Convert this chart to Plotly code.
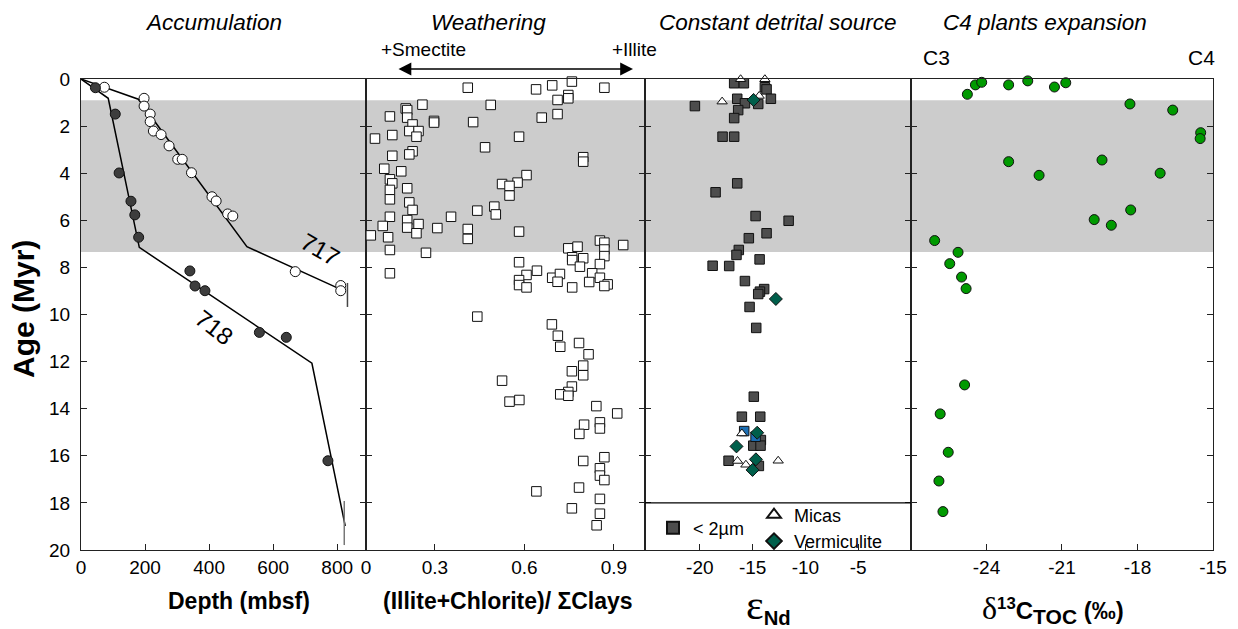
import plotly.graph_objects as go

# ---------------- data ----------------
# Panel 1: Accumulation (depth vs age), ODP sites 717 and 718
site717_depth = [73, 197, 197, 216, 216, 226, 250, 275, 302, 316, 345, 409, 422, 458, 474, 669, 811, 811]
site717_age = [0.35, 0.82, 1.15, 1.49, 1.81, 2.21, 2.36, 2.84, 3.41, 3.41, 3.98, 5.00, 5.18, 5.73, 5.82, 8.18, 8.77, 8.99]
site718_depth = [45, 107, 119, 156, 168, 180, 340, 356, 387, 557, 641, 771]
site718_age = [0.37, 1.49, 3.99, 5.19, 5.77, 6.72, 8.15, 8.79, 8.99, 10.76, 10.97, 16.21]
model717_depth = [0, 179, 518, 804]
model717_age = [0, 0.86, 7.12, 8.89]
model718_depth = [0, 85, 182, 721, 825]
model718_age = [0, 0.82, 7.15, 12.07, 18.98]
bar717_depth = [832, 832]
bar717_age = [8.66, 9.68]
bar718_depth = [822, 822]
bar718_age = [17.92, 19.79]

# Panel 2: Weathering, (Illite+Chlorite)/sum clays
clay_ratio = [0.410, 0.639, 0.693, 0.759, 0.868, 0.711, 0.747, 0.747, 0.711, 0.658, 0.487, 0.258, 0.202, 0.207,
              0.149, 0.207, 0.225, 0.297, 0.297, 0.428, 0.214, 0.245, 0.238, 0.157, 0.099, 0.582, 0.468, 0.225,
              0.214, 0.157, 0.797, 0.797, 0.130, 0.187, 0.149, 0.157, 0.149, 0.149, 0.207, 0.214, 0.225, 0.607,
              0.577, 0.525, 0.550, 0.550, 0.442, 0.499, 0.504, 0.354, 0.149, 0.207, 0.207, 0.245, 0.238, 0.125,
              0.085, 0.143, 0.308, 0.410, 0.410, 0.582, 0.149, 0.270, 0.149, 0.853, 0.868, 0.868, 0.868, 0.931,
              0.747, 0.778, 0.760, 0.797, 0.760, 0.786, 0.853, 0.827, 0.582, 0.642, 0.607, 0.582, 0.582, 0.607,
              0.693, 0.719, 0.711, 0.760, 0.817, 0.853, 0.879, 0.868,
              0.442, 0.692, 0.712, 0.720, 0.783, 0.815, 0.797, 0.797, 0.759, 0.525, 0.759, 0.747, 0.720, 0.747,
              0.583, 0.550, 0.841, 0.911, 0.853, 0.853, 0.800, 0.784, 0.868, 0.797, 0.853, 0.853, 0.868, 0.783,
              0.640, 0.853, 0.759, 0.853, 0.842]
clay_age = [0.37, 0.44, 0.27, 0.11, 0.37, 0.89, 0.68, 0.82, 1.49, 1.64, 1.10, 1.09, 1.25, 1.32,
            1.59, 1.64, 1.93, 1.78, 1.85, 1.83, 2.21, 2.21, 2.45, 2.38, 2.53, 2.45, 2.90, 3.07,
            3.20, 3.26, 3.32, 3.51, 3.81, 3.92, 4.26, 4.43, 4.71, 5.11, 4.64, 5.24, 5.56, 4.08,
            4.40, 4.46, 4.54, 4.95, 5.59, 5.42, 5.75, 5.85, 5.85, 5.99, 6.31, 6.16, 6.55, 6.24,
            6.64, 6.72, 6.33, 6.37, 6.79, 6.48, 7.26, 7.38, 8.25, 6.86, 6.95, 7.24, 7.52, 7.05,
            7.19, 7.12, 7.57, 7.61, 7.69, 7.97, 7.86, 8.25, 7.78, 8.14, 8.32, 8.54, 8.75, 8.85,
            8.44, 8.28, 8.61, 8.85, 8.62, 8.44, 8.72, 8.79,
            10.09, 10.42, 10.90, 11.37, 11.21, 11.69, 12.17, 12.58, 12.41, 12.81, 13.06, 13.29, 13.39, 13.45,
            13.63, 13.70, 13.89, 14.20, 14.58, 14.84, 14.68, 15.07, 16.06, 16.22, 16.53, 16.84, 17.03, 17.35,
            17.51, 17.83, 18.23, 18.46, 18.95]

# Panel 3: Constant detrital source, eps Nd
nd_clay = [-16.75, -15.83, -13.84, -13.68, -13.27, -16.46, -15.73, -14.47, -20.47, -16.37, -16.75, -17.85,
           -16.75, -16.46, -18.51, -14.72, -11.59, -13.68, -15.36, -16.31, -16.53, -14.34, -18.79, -17.22,
           -15.73, -13.91, -14.31, -14.47, -15.29, -14.66, -14.89, -16.02, -14.28, -14.22, -14.94, -14.25,
           -17.28, -14.41]
nd_clay_age = [0.18, 0.18, 0.35, 0.44, 0.84, 0.84, 1.03, 1.06, 1.15, 1.32, 1.66, 2.45,
               2.45, 4.43, 4.81, 5.82, 6.02, 6.55, 6.76, 7.26, 7.47, 7.66, 7.93, 7.94,
               8.58, 8.92, 9.03, 9.13, 9.68, 10.57, 13.49, 14.34, 14.34, 15.33, 15.57, 15.57,
               16.21, 16.43]
nd_blue = [-15.80, -14.72]
nd_blue_age = [14.95, 15.19]
nd_micas = [-16.14, -13.84, -14.38, -17.89, -16.02, -16.43, -15.64, -12.58]
nd_micas_age = [0.01, 0.01, 0.72, 0.96, 15.05, 16.22, 16.38, 16.21]
nd_verm = [-14.91, -12.80, -14.57, -16.53, -14.69, -15.01]
nd_verm_age = [0.89, 9.34, 15.02, 15.60, 16.15, 16.60]
legend_divider_age = 18

# Panel 4: C4 plants expansion, d13C TOC
d13c = [-24.76, -24.44, -24.19, -23.12, -22.36, -21.30, -20.85, -18.30, -16.60, -15.49, -15.51, -23.12,
        -21.91, -19.41, -17.10, -18.27, -19.72, -19.04, -26.06, -25.13, -25.46, -24.99, -24.81, -24.87,
        -25.84, -25.52, -25.89, -25.73]
d13c_age = [0.65, 0.25, 0.14, 0.25, 0.08, 0.34, 0.16, 1.06, 1.32, 2.28, 2.53, 3.51,
            4.09, 3.44, 4.00, 5.56, 5.97, 6.21, 6.86, 7.36, 7.84, 8.41, 8.90, 12.99,
            14.22, 15.85, 17.07, 18.37]

band_age = [0.9, 7.35]

# tick labels
depth_ticks = [0, 200, 400, 600, 800]
ratio_ticks = [0.069, 0.3, 0.6, 0.9]
ratio_ticktext = ["0", "0.3", "0.6", "0.9"]
nd_ticks = [-20, -15, -10, -5]
c13_ticks = [-24, -21, -18, -15]
age_ticks = list(range(0, 21, 2))

# ---------------- figure ----------------
FONT = "Liberation Sans, Arial, sans-serif"
LINE = "#222222"
fig = go.Figure()

mk = lambda fill, sym, size: dict(color=fill, symbol=sym, size=size, line=dict(color="#111111", width=1))

# Panel 1
fig.add_trace(go.Scatter(x=model717_depth, y=model717_age, mode="lines", line=dict(color="black", width=1.5),
                         xaxis="x", yaxis="y", showlegend=False, hoverinfo="skip"))
fig.add_trace(go.Scatter(x=model718_depth, y=model718_age, mode="lines", line=dict(color="black", width=1.5),
                         xaxis="x", yaxis="y", showlegend=False, hoverinfo="skip"))
fig.add_trace(go.Scatter(x=bar717_depth, y=bar717_age, mode="lines", line=dict(color="#444444", width=1.5),
                         xaxis="x", yaxis="y", showlegend=False))
fig.add_trace(go.Scatter(x=bar718_depth, y=bar718_age, mode="lines", line=dict(color="#777777", width=1.5),
                         xaxis="x", yaxis="y", showlegend=False))
fig.add_trace(go.Scatter(x=site717_depth, y=site717_age, mode="markers", marker=mk("white", "circle", 10),
                         xaxis="x", yaxis="y", showlegend=False, cliponaxis=False))
fig.add_trace(go.Scatter(x=site718_depth, y=site718_age, mode="markers", marker=mk("#3d3d3d", "circle", 10),
                         xaxis="x", yaxis="y", showlegend=False, cliponaxis=False))

# Panel 2
fig.add_trace(go.Scatter(x=clay_ratio, y=clay_age, mode="markers", marker=mk("white", "square", 9.5),
                         xaxis="x2", yaxis="y2", showlegend=False, cliponaxis=False))

# Panel 3
fig.add_trace(go.Scatter(x=nd_clay, y=nd_clay_age, mode="markers", marker=mk("#4d4d4d", "square", 9.5),
                         xaxis="x3", yaxis="y3", name="&lt; 2µm", legend="legend", cliponaxis=False))
fig.add_trace(go.Scatter(x=nd_blue, y=nd_blue_age, mode="markers", marker=mk("#1c6fb4", "square", 9.5),
                         xaxis="x3", yaxis="y3", showlegend=False, cliponaxis=False))
fig.add_trace(go.Scatter(x=nd_micas, y=nd_micas_age, mode="markers", marker=mk("white", "triangle-up", 9),
                         xaxis="x3", yaxis="y3", name="Micas", legend="legend2", cliponaxis=False))
fig.add_trace(go.Scatter(x=nd_verm, y=nd_verm_age, mode="markers", marker=mk("#005f4b", "diamond", 10),
                         xaxis="x3", yaxis="y3", name="Vermiculite", legend="legend2", cliponaxis=False))

# Panel 4
fig.add_trace(go.Scatter(x=d13c, y=d13c_age, mode="markers", marker=mk("#009a00", "circle", 10),
                         xaxis="x4", yaxis="y4", showlegend=False, cliponaxis=False))

# ---------------- axes ----------------
doms = [[0, 0.2518], [0.2518, 0.4982], [0.4982, 0.7332], [0.7332, 1.0]]
xranges = [[0, 890], [0.069, 1.004], [-25.2, 0], [-27, -15]]
xtickvals = [depth_ticks, ratio_ticks, nd_ticks, c13_ticks]
xticktext = [[str(v) for v in depth_ticks], ratio_ticktext, [str(v) for v in nd_ticks], [str(v) for v in c13_ticks]]
top_ranges = [[0, 890], [0, 0.921], [-25.2, 0], [-27, -15]]
top_ticks = [depth_ticks, [0.3, 0.6, 0.9], nd_ticks, c13_ticks[:3]]

layout = {}
for i in range(4):
    n = "" if i == 0 else str(i + 1)
    layout["xaxis" + n] = dict(domain=doms[i], range=xranges[i], anchor="y" + n, tickmode="array",
                               tickvals=xtickvals[i], ticktext=xticktext[i], ticks="inside", ticklen=6,
                               tickcolor=LINE, showline=True, linecolor=LINE, linewidth=1, mirror=True,
                               showgrid=False, zeroline=False, tickfont=dict(size=19, family=FONT, color="black"))
    layout["yaxis" + n] = dict(domain=[0, 1], range=[20, 0], anchor="x" + n, tickmode="array",
                               tickvals=age_ticks, ticks="inside", ticklen=6, tickcolor=LINE,
                               showline=True, linecolor=LINE, linewidth=1, mirror="ticks",
                               showgrid=False, zeroline=False, showticklabels=(i == 0),
                               tickfont=dict(size=19, family=FONT, color="black"),
                               ticklabelstandoff=6)
    if i > 0:
        layout["yaxis" + n]["matches"] = "y"
    # top tick axes
    layout["xaxis" + str(i + 5)] = dict(overlaying="x" + n, anchor="y" + n, side="top", range=top_ranges[i],
                                        tickmode="array", tickvals=top_ticks[i], ticks="outside", ticklen=7,
                                        tickcolor=LINE, showticklabels=False, showline=False,
                                        showgrid=False, zeroline=False)

# ---------------- annotations ----------------
def px(xp):
    return (xp - 81) / 1132.0

def py(yp):
    return (550 - yp) / 471.0

ann = []
title_font = dict(family=FONT, size=22.5, color="black")
for txt, xc in [("<i>Accumulation</i>", 213), ("<i>Weathering</i>", 488),
                ("<i>Constant detrital source</i>", 778), ("<i>C4 plants expansion</i>", 1045)]:
    ann.append(dict(text=txt, x=px(xc), y=py(22), xref="paper", yref="paper", showarrow=False,
                    xanchor="center", yanchor="middle", font=title_font))

lab_font = dict(family=FONT, size=19, color="black")
ann.append(dict(text="+Smectite", x=px(423), y=py(49), xref="paper", yref="paper", showarrow=False,
                xanchor="center", yanchor="middle", font=lab_font))
ann.append(dict(text="+Illite", x=px(634), y=py(49), xref="paper", yref="paper", showarrow=False,
                xanchor="center", yanchor="middle", font=lab_font))
ann.append(dict(text="", x=px(633), y=py(69), xref="paper", yref="paper", ax=-236, ay=0,
                showarrow=True, arrowhead=2, arrowsize=1.6, arrowwidth=1.6, arrowside="end+start",
                arrowcolor="black"))
ann.append(dict(text="C3", x=px(936), y=py(57), xref="paper", yref="paper", showarrow=False,
                xanchor="center", yanchor="middle", font=dict(family=FONT, size=21, color="black")))
ann.append(dict(text="C4", x=px(1201), y=py(57), xref="paper", yref="paper", showarrow=False,
                xanchor="center", yanchor="middle", font=dict(family=FONT, size=21, color="black")))

# site labels
ann.append(dict(text="717", x=747, y=7.26, xref="x", yref="y", showarrow=False, textangle=30,
                font=dict(family=FONT, size=24, color="black")))
ann.append(dict(text="718", x=416, y=10.57, xref="x", yref="y", showarrow=False, textangle=38,
                font=dict(family=FONT, size=24, color="black")))

# axis titles
ax_font = dict(family=FONT, size=23, color="black")
ann.append(dict(text="<b>Age (Myr)</b>", x=px(23), y=py(309), xref="paper", yref="paper", showarrow=False,
                textangle=-90, xanchor="center", yanchor="middle", font=dict(family=FONT, size=30, color="black")))
ann.append(dict(text="<b>Depth (mbsf)</b>", x=px(239), y=py(601), xref="paper", yref="paper", showarrow=False,
                xanchor="center", yanchor="middle", font=ax_font))
ann.append(dict(text="<b>(Illite+Chlorite)/ ΣClays</b>", x=px(508), y=py(601), xref="paper", yref="paper",
                showarrow=False, xanchor="center", yanchor="middle", font=ax_font))
ann.append(dict(text="<span style='font-family:Liberation Serif;font-size:42px'>ε</span><b><sub>Nd</sub></b>",
                x=px(768), y=py(605), xref="paper", yref="paper", showarrow=False,
                xanchor="center", yanchor="middle", font=dict(family=FONT, size=29, color="black")))
ann.append(dict(text="<span style='font-family:Liberation Serif;font-size:32px'>δ</span>"
                     "<b><sup>13</sup>C<sub><span style='font-size:21px'>TOC</span></sub> (‰)</b>",
                x=px(1053), y=py(609), xref="paper", yref="paper", showarrow=False,
                xanchor="center", yanchor="middle", font=dict(family=FONT, size=24, color="black")))

# ---------------- shapes ----------------
shapes = [
    dict(type="rect", xref="paper", yref="y", x0=0, x1=1, y0=band_age[0], y1=band_age[1],
         fillcolor="#cccccc", line=dict(width=0), layer="below"),
    dict(type="line", xref="x3 domain", yref="y3", x0=0, x1=1, y0=legend_divider_age, y1=legend_divider_age,
         line=dict(color="black", width=1.2)),
]

# page has an 8px body margin: figure is drawn 8px right/down, so margins are reduced accordingly
fig.update_layout(
    **layout,
    annotations=ann,
    shapes=shapes,
    width=1230, height=621,
    margin=dict(l=73, r=25, t=71, b=79, autoexpand=False),
    paper_bgcolor="white", plot_bgcolor="rgba(0,0,0,0)",
    font=dict(family=FONT, color="black"),
    legend=dict(x=px(653), y=py(528), xanchor="left", yanchor="middle", bgcolor="rgba(0,0,0,0)",
                font=dict(family=FONT, size=18, color="black"), itemsizing="constant"),
    legend2=dict(x=px(754), y=py(528), xanchor="left", yanchor="middle", bgcolor="rgba(0,0,0,0)",
                 font=dict(family=FONT, size=18, color="black"), itemsizing="constant", tracegroupgap=0),
)

fig.write_html("out.html")
